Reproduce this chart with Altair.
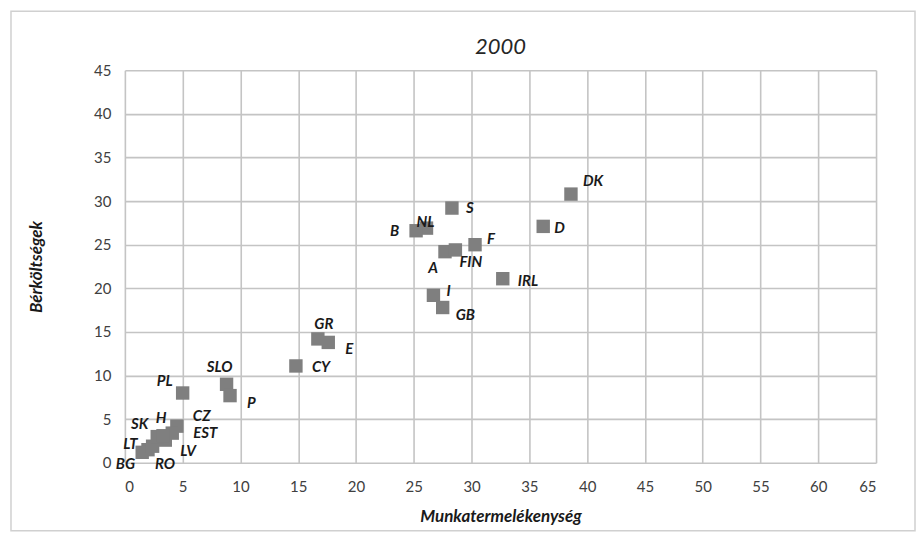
import altair as alt
import pandas as pd

# ---- data ----
countries = ["DK", "D", "S", "NL", "B", "A", "FIN", "F", "IRL", "I", "GB",
             "GR", "E", "CY", "SLO", "PL", "P", "CZ", "EST", "LV", "RO",
             "BG", "LT", "SK", "H"]
productivity = [38.6, 36.2, 28.3, 26.1, 25.2, 27.7, 28.6, 30.3, 32.7, 26.7, 27.5,
                16.7, 17.6, 14.8, 8.8, 5.0, 9.1, 4.5, 4.1, 3.5, 2.0,
                1.5, 2.4, 2.8, 3.3]
wage_costs = [30.8, 27.1, 29.2, 26.9, 26.6, 24.2, 24.4, 25.0, 21.1, 19.2, 17.8,
              14.2, 13.8, 11.1, 9.0, 8.0, 7.7, 4.2, 3.4, 2.6, 1.5,
              1.2, 1.9, 3.0, 3.1]
x_ticks = list(range(0, 70, 5))
y_ticks = list(range(0, 50, 5))
chart_title = "2000"

# ---- label placement (style only): align, dx, dy in pixels ----
label_style = {
    "DK": ("left", 12, -13), "D": ("left", 11, 2), "S": ("left", 14, 0),
    "NL": ("center", -1, -6), "B": ("right", -17, 0), "A": ("center", -12, 16),
    "FIN": ("left", 4, 12), "F": ("left", 12, -6), "IRL": ("left", 15, 2),
    "I": ("left", 13, -4), "GB": ("left", 13, 8), "GR": ("center", 6, -15),
    "E": ("left", 17, 7), "CY": ("left", 16, 1), "SLO": ("center", -7, -17),
    "PL": ("right", -10, -12), "P": ("left", 17, 7), "CZ": ("left", 16, -10),
    "EST": ("left", 21, 0), "LV": ("left", 15, 11), "RO": ("left", 7, 14),
    "BG": ("right", -7, 12), "LT": ("right", -15, -2), "SK": ("right", -9, -13),
    "H": ("center", -2, -18),
}

df = pd.DataFrame({"country": countries, "prod": productivity, "wage": wage_costs})

FONT = "Lato"
W, H = 752, 393

xs = alt.Scale(domain=[0, 65], nice=False)
ys = alt.Scale(domain=[0, 45], nice=False)

x_enc = alt.X("prod:Q", scale=xs, axis=alt.Axis(
    values=x_ticks, title="Munkatermelékenység", grid=True, domain=False, ticks=False,
    labelFontSize=15, labelColor="#404040", labelPadding=17,
    titleFontSize=17, titleFontWeight="bold", titleFontStyle="italic",
    titleColor="#1a1a1a", titlePadding=14))
y_enc = alt.Y("wage:Q", scale=ys, axis=alt.Axis(
    values=y_ticks, title="Bérköltségek", grid=True, domain=False, ticks=False,
    labelFontSize=15, labelColor="#404040", labelPadding=14,
    titleFontSize=17, titleFontWeight="bold", titleFontStyle="italic",
    titleColor="#1a1a1a", titlePadding=48))

base = alt.Chart(df)

points = base.mark_point(shape="square", filled=True, size=180, color="#7f7f7f",
                         opacity=1).encode(x=x_enc, y=y_enc)

layers = [points]
for name in countries:
    align, dx, dy = label_style[name]
    layers.append(
        base.transform_filter(alt.datum.country == name)
        .mark_text(align=align, baseline="middle", dx=dx, dy=dy, font=FONT,
                   fontSize=15, fontWeight="bold", fontStyle="italic",
                   color="#1a1a1a")
        .encode(x=alt.X("prod:Q", scale=xs), y=alt.Y("wage:Q", scale=ys),
                text="country:N")
    )

frame_df = pd.DataFrame({"title": [chart_title]})
border = alt.Chart(frame_df).mark_rect(
    fill=None, stroke="#d0d0d0", strokeWidth=1.5).encode(
    x=alt.value(-114), x2=alt.value(791), y=alt.value(-59), y2=alt.value(461))

title_text = alt.Chart(frame_df).mark_text(
    align="center", baseline="middle", font=FONT, fontSize=22,
    fontStyle="italic", color="#262626").encode(
    x=alt.value(W / 2), y=alt.value(-23), text="title:N")

chart = alt.layer(border, title_text, *layers).properties(
    width=W, height=H,
    autosize=alt.AutoSizeParams(type="none"),
    padding={"left": 117, "top": 62, "right": 40, "bottom": 70},
    background="white",
).configure(font=FONT).configure_view(stroke=None).configure_axis(
    gridColor="#c4c4c4", gridWidth=1.6, labelFont=FONT, titleFont=FONT)

chart.save("out.html", embed_options={"renderer": "svg", "actions": False})
